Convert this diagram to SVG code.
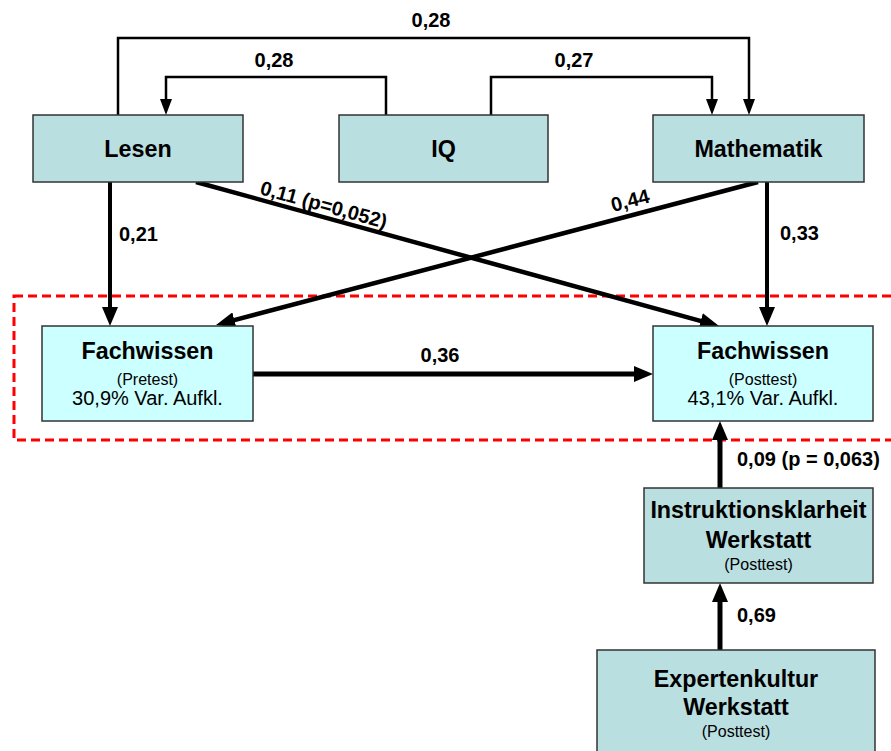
<svg xmlns="http://www.w3.org/2000/svg" width="891" height="751" viewBox="0 0 891 751">
<style>
.box{fill:#B9DFE1;stroke:#333;stroke-width:1.5}
.boxl{fill:#CCFFFF;stroke:#333;stroke-width:1.5}
.t{font-family:"Liberation Sans",Arial,sans-serif;fill:#000}
.b23{font-size:23.3px;font-weight:bold}
.r16{font-size:16px}
.r19{font-size:20px}
.lab{font-family:"Liberation Sans",Arial,sans-serif;font-size:20px;font-weight:bold;fill:#000}
.c{text-anchor:middle}
.ln{fill:none;stroke:#000}
</style>
<defs>
<marker id="a1" markerUnits="userSpaceOnUse" markerWidth="16" markerHeight="12" refX="8" refY="6" orient="auto"><path d="M0,0 L16,6 L0,12 z" fill="#000"/></marker>
<marker id="a2" markerUnits="userSpaceOnUse" markerWidth="19" markerHeight="16" refX="9" refY="8" orient="auto"><path d="M0,0 L19,8 L0,16 z" fill="#000"/></marker>
</defs>
<rect x="14" y="296" width="900" height="144" fill="none" stroke="#FF0000" stroke-width="3" stroke-dasharray="9,5"/>
<g id="connectors">
<path class="ln" stroke-width="2.5" d="M118,115 V38 H749 V107" marker-end="url(#a1)"/>
<path class="ln" stroke-width="2.5" d="M386,115 V77 H166 V107" marker-end="url(#a1)"/>
<path class="ln" stroke-width="2.5" d="M491,115 V77 H712 V107" marker-end="url(#a1)"/>
<path class="ln" stroke-width="4" d="M110,182 V316" marker-end="url(#a2)"/>
<path class="ln" stroke-width="4" d="M767,182 V316" marker-end="url(#a2)"/>
<path class="ln" stroke-width="4.5" d="M196,182 L709.4,323.3" marker-end="url(#a2)"/>
<path class="ln" stroke-width="4.5" d="M758,182 L225.7,322.4" marker-end="url(#a2)"/>
<path class="ln" stroke-width="5" d="M253,374 H643" marker-end="url(#a2)"/>
<path class="ln" stroke-width="5" d="M720,488 V431" marker-end="url(#a2)"/>
<path class="ln" stroke-width="5" d="M720,650 V593" marker-end="url(#a2)"/>
<text class="lab c" x="431" y="27">0,28</text>
<text class="lab c" x="274" y="67">0,28</text>
<text class="lab c" x="574" y="67">0,27</text>
<text class="lab" x="119" y="241">0,21</text>
<text class="lab" x="780" y="240">0,33</text>
<text class="lab c" x="440" y="362">0,36</text>
<text class="lab" x="737" y="466">0,09 (p = 0,063)</text>
<text class="lab" x="737" y="622">0,69</text>
<text class="lab" transform="translate(259,194) rotate(15.4)">0,11 (p=0,052)</text>
<text class="lab" transform="translate(613,212) rotate(-14.7)">0,44</text>
</g>
<g id="lesen">
<rect class="box" x="33" y="115" width="210" height="67"/>
<text class="t b23 c" x="138" y="157">Lesen</text>
</g>
<g id="iq">
<rect class="box" x="339" y="115" width="209" height="67"/>
<text class="t b23 c" x="443.5" y="157">IQ</text>
</g>
<g id="mathematik">
<rect class="box" x="653" y="115" width="211" height="67"/>
<text class="t b23 c" x="758.5" y="157">Mathematik</text>
</g>
<g id="fachwissen-pre">
<rect class="boxl" x="42" y="326" width="211" height="95"/>
<text class="t b23 c" x="147.5" y="359">Fachwissen</text>
<text class="t r16 c" x="147.5" y="385">(Pretest)</text>
<text class="t r19 c" x="147.5" y="405">30,9% Var. Aufkl.</text>
</g>
<g id="fachwissen-post">
<rect class="boxl" x="653" y="326" width="220" height="95"/>
<text class="t b23 c" x="763" y="359">Fachwissen</text>
<text class="t r16 c" x="763" y="385">(Posttest)</text>
<text class="t r19 c" x="763" y="405">43,1% Var. Aufkl.</text>
</g>
<g id="instruktionsklarheit">
<rect class="box" x="644" y="488" width="229" height="95"/>
<text class="t b23 c" x="758.5" y="518">Instruktionsklarheit</text>
<text class="t b23 c" x="758.5" y="548">Werkstatt</text>
<text class="t r16 c" x="758.5" y="570">(Posttest)</text>
</g>
<g id="expertenkultur">
<rect class="box" x="597" y="650" width="278" height="110"/>
<text class="t b23 c" x="736" y="687">Expertenkultur</text>
<text class="t b23 c" x="736" y="715">Werkstatt</text>
<text class="t r16 c" x="736" y="737">(Posttest)</text>
</g>
</svg>
